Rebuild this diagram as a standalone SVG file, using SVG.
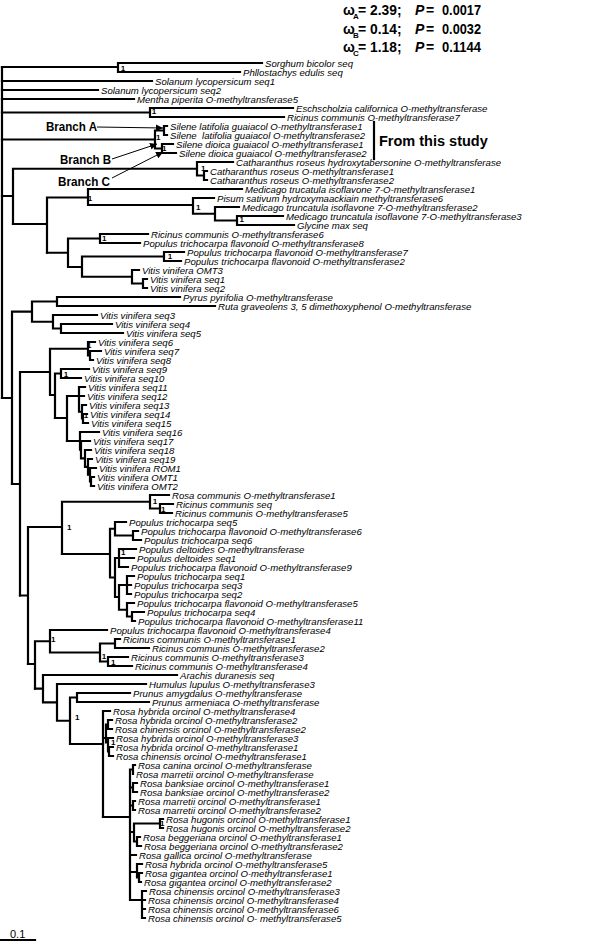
<svg xmlns="http://www.w3.org/2000/svg" width="600" height="942" viewBox="0 0 600 942">
<defs>
<style>
.t{font-family:"Liberation Sans",Arial,sans-serif;font-style:italic;font-size:9.6px;fill:#000}
.s{font-family:"Liberation Sans",Arial,sans-serif;font-weight:bold;font-size:8px;text-anchor:middle;fill:#000}
.h{font-family:"Liberation Sans",Arial,sans-serif;font-weight:bold;font-size:14px;fill:#000}
.hs{font-size:8px}
.br{stroke:#000;stroke-width:2.2;fill:none;stroke-linecap:square}
.ar{stroke:#000;stroke-width:1;fill:none}
.lb{font-family:"Liberation Sans",Arial,sans-serif;font-weight:bold;font-size:13px;fill:#000}
</style>
<marker id="ah" viewBox="0 0 10 10" refX="10" refY="5" markerWidth="7" markerHeight="7" orient="auto" markerUnits="userSpaceOnUse"><path d="M0,0 L10,5 L0,10 z" fill="#000"/></marker>
</defs>
<rect width="600" height="942" fill="#fff"/>
<g id="header">
<text class="h" y="14.5"><tspan x="343">ω</tspan><tspan class="hs" x="353" y="18.5">A</tspan><tspan x="358" y="14.5">=</tspan><tspan x="370" textLength="31.5" lengthAdjust="spacingAndGlyphs">2.39;</tspan><tspan x="415" font-style="italic">P</tspan><tspan x="426">=</tspan><tspan x="442" textLength="39" lengthAdjust="spacingAndGlyphs">0.0017</tspan></text>
<text class="h" y="33.5"><tspan x="343">ω</tspan><tspan class="hs" x="353" y="37.5">B</tspan><tspan x="358" y="33.5">=</tspan><tspan x="370" textLength="31.5" lengthAdjust="spacingAndGlyphs">0.14;</tspan><tspan x="415" font-style="italic">P</tspan><tspan x="426">=</tspan><tspan x="442" textLength="39" lengthAdjust="spacingAndGlyphs">0.0032</tspan></text>
<text class="h" y="52"><tspan x="343">ω</tspan><tspan class="hs" x="353" y="56">C</tspan><tspan x="358" y="52">=</tspan><tspan x="370" textLength="31.5" lengthAdjust="spacingAndGlyphs">1.18;</tspan><tspan x="415" font-style="italic">P</tspan><tspan x="426">=</tspan><tspan x="442" textLength="39" lengthAdjust="spacingAndGlyphs">0.1144</tspan></text>
</g>
<g id="connectors">
<path class="br" d="M2,67 V398"/>
<path class="br" d="M2,67 H118 M118,63 V72 M118,63 H262 M118,72 H240"/>
<path class="br" d="M2,81 H152 M2,90 H98 M2,99 H134"/>
<path class="br" d="M2,112.5 H150 M150,108 V117 M150,108 H293 M150,117 H284"/>
<path class="br" d="M2,139.5 H155 M155,130.5 V148.5 M155,130.5 H164 M164,126 V135 M164,126 H167 M164,135 H167 M155,148.5 H162 M162,144 V153 M162,144 H173 M162,153 H176"/>
<path class="br" d="M2,196 H13 M13,168.75 V224 M13,168.75 H197 M197,162 V175.5 M197,162 H233 M197,175.5 H204 M204,171 V180 M204,171 H207 M204,180 H207"/>
<path class="br" d="M13,224 H47 M47,197.5 V252.75 M47,197.5 H88 M88,189 V205 M88,189 H242 M88,205 H193 M193,198 V213.75 M193,198 H214 M193,213.75 H215 M215,207 V220.5 M215,207 H239 M215,220.5 H237 M237,216 V225 M237,216 H283 M237,225 H294"/>
<path class="br" d="M47,252.75 H68 M68,238.5 V267 M68,238.5 H100 M100,234 V243 M100,234 H148 M100,243 H140 M68,267 H82 M82,256.5 V276.75 M82,256.5 H164 M164,252 V261 M164,252 H184 M164,261 H181 M82,276.75 H132 M132,270 V283.5 M132,270 H139 M132,283.5 H143 M143,279 V288 M143,279 H147 M143,288 H147"/>
<path class="br" d="M2,398 H12 M12,311.6 V484 M12,311.6 H32 M32,301.5 V321.75 M32,301.5 H57 M57,297 V306 M57,297 H180 M57,306 H215 M32,321.75 H53 M53,315 V328.5 M53,315 H97 M53,328.5 H61 M61,324 V333 M61,324 H112 M61,333 H123"/>
<path class="br" d="M12,484 H20 M20,372 V595.5 M20,372 H50 M50,348.75 V395 M50,348.75 H88 M88,342 V355.5 M88,342 H95 M88,355.5 H90 M90,351 V360 M90,351 H101 M90,360 H93 M50,395 H55 M55,373.5 V418 M55,373.5 H61 M61,369 V378 M61,369 H89 M61,378 H81"/>
<path class="br" d="M55,418 H67 M67,396 V441 M67,396 H79 M79,387 V411.75 M79,387 H85 M79,396 H84 M79,411.75 H82 M82,405 V418.5 M82,405 H86 M82,418.5 H83 M83,414 V423 M83,414 H87 M83,423 H88"/>
<path class="br" d="M67,441 H80 M80,432 V449.7 M80,432 H99 M80,449.7 H81 M81,441 V458.4 M81,441 H90 M81,458.4 H85 M85,450 V466.9 M85,450 H91 M85,466.9 H88 M88,459 V474.75 M88,459 H92 M88,474.75 H90 M90,468 V481.5 M90,468 H96 M90,481.5 H91 M91,477 V486 M91,477 H94 M91,486 H94"/>
<path class="br" d="M20,595.5 H28 M28,527 V664 M28,527 H62 M62,501.75 V554 M62,501.75 H150 M150,495 V508.5 M150,495 H169 M150,508.5 H160 M160,504 V513 M160,504 H173 M160,513 H172"/>
<path class="br" d="M62,554 H110 M110,528.75 V577.5 M110,528.75 H115 M115,522 V535.5 M115,522 H126 M115,535.5 H133 M133,531 V540 M133,531 H138 M133,540 H141 M110,577.5 H115 M115,558 V597 M115,558 H119 M119,549 V567 M119,549 H136 M119,558 H134 M119,567 H128 M115,597 H119 M119,585 V609.75 M119,585 H127 M127,576 V594 M127,576 H134 M127,585 H131 M127,594 H131 M119,609.75 H127 M127,603 V616.5 M127,603 H134 M127,616.5 H132 M132,612 V621 M132,612 H144 M132,621 H135"/>
<path class="br" d="M28,664 H35 M35,641.25 V688.7 M35,641.25 H50 M50,630 V652.5 M50,630 H107 M50,652.5 H100 M100,643.5 V661.5 M100,643.5 H115 M115,639 V648 M115,639 H120 M115,648 H149 M100,661.5 H108 M108,657 V666 M108,657 H128 M108,666 H132"/>
<path class="br" d="M35,688.7 H43 M43,675 V702.4 M43,675 H177 M43,702.4 H57 M57,684 V720.75 M57,684 H146 M57,720.75 H70 M70,697.5 V744 M70,697.5 H77 M77,693 V702 M77,693 H130 M77,702 H149 M70,744 H103"/>
<path class="br" d="M103,711 V817 M103,711 H110 M103,738 H106 M106,724.5 V742.5 M106,724.5 H108 M108,720 V729 M108,720 H112 M108,729 H112 M106,742.5 H108 M108,738 V751.5 M108,738 H113 M108,751.5 H109 M109,747 V756 M109,747 H113 M109,756 H113"/>
<path class="br" d="M103,817 H130 M130,769.5 V900 M130,769.5 H133 M133,765 V774 M133,765 H135 M133,774 H133 M130,787.5 H133 M133,783 V792 M133,783 H137 M133,792 H137 M130,805.5 H133 M133,801 V810 M133,801 H135 M133,810 H135 M130,832 H134 M134,823.5 V841.5 M134,823.5 H160 M160,819 V828 M160,819 H163 M160,828 H163 M134,841.5 H137 M137,837 V846 M137,837 H140 M137,846 H141 M130,855 H136 M130,872 H137 M137,864 V877.5 M137,864 H142 M137,877.5 H139 M139,873 V882 M139,873 H142 M139,882 H141 M130,900 H142 M142,891 V918 M142,891 H146 M142,900 H145 M142,909 H145 M142,918 H145"/>
<path class="ar" d="M97,127 L163,128" marker-end="url(#ah)"/>
<path class="ar" d="M112,159 L157,144" marker-end="url(#ah)"/>
<path class="ar" d="M112,178 L163,152" marker-end="url(#ah)"/>
<path class="br" d="M374,122 V159"/>
<path class="br" d="M1,940 H35"/>
</g>
<g id="support">
<text class="s" x="123" y="70.9">1</text>
<text class="s" x="154" y="114.2">1</text>
<text class="s" x="158.3" y="140.2">1</text>
<text class="s" x="164.3" y="150.9">1</text>
<text class="s" x="203.3" y="170.6">1</text>
<text class="s" x="90" y="200.6">1</text>
<text class="s" x="198.3" y="209.6">1</text>
<text class="s" x="241.7" y="222.2">1</text>
<text class="s" x="104.3" y="240.9">1</text>
<text class="s" x="170" y="258.6">1</text>
<text class="s" x="89.3" y="348.2">1</text>
<text class="s" x="66" y="376.6">1</text>
<text class="s" x="86" y="417.9">1</text>
<text class="s" x="155" y="504.2">1</text>
<text class="s" x="163.3" y="511.6">1</text>
<text class="s" x="69.3" y="530.2">1</text>
<text class="s" x="123.3" y="554.6">1</text>
<text class="s" x="53.3" y="641.9">1</text>
<text class="s" x="104" y="658.6">1</text>
<text class="s" x="113.3" y="665.2">1</text>
<text class="s" x="77.3" y="719.9">1</text>
<text class="s" x="113.3" y="744.9">1</text>
<text class="s" x="162.3" y="826.2">1</text>
</g>
<g id="annotations">
<text class="lb" x="46" y="131" textLength="51" lengthAdjust="spacingAndGlyphs">Branch A</text>
<text class="lb" x="60" y="163.5" textLength="51" lengthAdjust="spacingAndGlyphs">Branch B</text>
<text class="lb" x="58" y="185.5" textLength="52" lengthAdjust="spacingAndGlyphs">Branch C</text>
<text x="379" y="146.3" font-family="Liberation Sans, Arial, sans-serif" font-weight="bold" font-size="14.5px">From this study</text>
<text x="10" y="937.5" font-family="Liberation Sans, Arial, sans-serif" font-size="11px">0.1</text>
</g>
<g id="leaves">
<g id="leaf1"><text class="t" x="265" y="66.5">Sorghum bicolor seq</text></g>
<g id="leaf2"><text class="t" x="243" y="75.5">Phllostachys edulis seq</text></g>
<g id="leaf3"><text class="t" x="155" y="84.5">Solanum lycopersicum seq1</text></g>
<g id="leaf4"><text class="t" x="101" y="93.5">Solanum lycopersicum seq2</text></g>
<g id="leaf5"><text class="t" x="137" y="102.5">Mentha piperita O-methyltransferase5</text></g>
<g id="leaf6"><text class="t" x="296" y="111.5">Eschscholzia californica O-methyltransferase</text></g>
<g id="leaf7"><text class="t" x="287" y="120.5">Ricinus communis O-methyltransferase7</text></g>
<g id="leaf8"><text class="t" x="170" y="129.5">Silene latifolia guaiacol O-methyltransferase1</text></g>
<g id="leaf9"><text class="t" x="170" y="138.5" xml:space="preserve">Silene  latifolia guaiacol O-methyltransferase2</text></g>
<g id="leaf10"><text class="t" x="176" y="147.5">Silene dioica guaiacol O-methyltransferase1</text></g>
<g id="leaf11"><text class="t" x="179" y="156.5">Silene dioica guaiacol O-methyltransferase2</text></g>
<g id="leaf12"><text class="t" x="236" y="165.5">Catharanthus roseus hydroxytabersonine O-methyltransferase</text></g>
<g id="leaf13"><text class="t" x="210" y="174.5">Catharanthus roseus O-methyltransferase1</text></g>
<g id="leaf14"><text class="t" x="210" y="183.5">Catharanthus roseus O-methyltransferase2</text></g>
<g id="leaf15"><text class="t" x="245" y="192.5">Medicago trucatula isoflavone 7-O-methyltransferase1</text></g>
<g id="leaf16"><text class="t" x="217" y="201.5">Pisum sativum hydroxymaackiain methyltransferase6</text></g>
<g id="leaf17"><text class="t" x="242" y="210.5">Medicago truncatula isoflavone 7-O-methyltransferase2</text></g>
<g id="leaf18"><text class="t" x="286" y="219.5">Medicago truncatula isoflavone 7-O-methyltransferase3</text></g>
<g id="leaf19"><text class="t" x="297" y="228.5">Glycine max seq</text></g>
<g id="leaf20"><text class="t" x="151" y="237.5">Ricinus communis O-methyltransferase6</text></g>
<g id="leaf21"><text class="t" x="143" y="246.5">Populus trichocarpa flavonoid O-methyltransferase8</text></g>
<g id="leaf22"><text class="t" x="187" y="255.5">Populus trichocarpa flavonoid O-methyltransferase7</text></g>
<g id="leaf23"><text class="t" x="184" y="264.5">Populus trichocarpa flavonoid O-methyltransferase2</text></g>
<g id="leaf24"><text class="t" x="142" y="273.5">Vitis vinifera OMT3</text></g>
<g id="leaf25"><text class="t" x="150" y="282.5">Vitis vinifera seq1</text></g>
<g id="leaf26"><text class="t" x="150" y="291.5">Vitis vinifera seq2</text></g>
<g id="leaf27"><text class="t" x="183" y="300.5">Pyrus pyrifolia O-methyltransferase</text></g>
<g id="leaf28"><text class="t" x="218" y="309.5">Ruta graveolens 3, 5 dimethoxyphenol O-methyltransferase</text></g>
<g id="leaf29"><text class="t" x="100" y="318.5">Vitis vinifera seq3</text></g>
<g id="leaf30"><text class="t" x="115" y="327.5">Vitis vinifera seq4</text></g>
<g id="leaf31"><text class="t" x="126" y="336.5">Vitis vinifera seq5</text></g>
<g id="leaf32"><text class="t" x="98" y="345.5">Vitis vinifera seq6</text></g>
<g id="leaf33"><text class="t" x="104" y="354.5">Vitis vinifera seq7</text></g>
<g id="leaf34"><text class="t" x="96" y="363.5">Vitis vinifera seq8</text></g>
<g id="leaf35"><text class="t" x="92" y="372.5">Vitis vinifera seq9</text></g>
<g id="leaf36"><text class="t" x="84" y="381.5">Vitis vinifera seq10</text></g>
<g id="leaf37"><text class="t" x="88" y="390.5">Vitis vinifera seq11</text></g>
<g id="leaf38"><text class="t" x="87" y="399.5">Vitis vinifera seq12</text></g>
<g id="leaf39"><text class="t" x="89" y="408.5">Vitis vinifera seq13</text></g>
<g id="leaf40"><text class="t" x="90" y="417.5">Vitis vinifera seq14</text></g>
<g id="leaf41"><text class="t" x="91" y="426.5">Vitis vinifera seq15</text></g>
<g id="leaf42"><text class="t" x="102" y="435.5">Vitis vinifera seq16</text></g>
<g id="leaf43"><text class="t" x="93" y="444.5">Vitis vinifera seq17</text></g>
<g id="leaf44"><text class="t" x="94" y="453.5">Vitis vinifera seq18</text></g>
<g id="leaf45"><text class="t" x="95" y="462.5">Vitis vinifera seq19</text></g>
<g id="leaf46"><text class="t" x="99" y="471.5">Vitis vinifera ROM1</text></g>
<g id="leaf47"><text class="t" x="97" y="480.5">Vitis vinifera OMT1</text></g>
<g id="leaf48"><text class="t" x="97" y="489.5">Vitis vinifera OMT2</text></g>
<g id="leaf49"><text class="t" x="172" y="498.5">Rosa communis O-methyltransferase1</text></g>
<g id="leaf50"><text class="t" x="176" y="507.5">Ricinus communis seq</text></g>
<g id="leaf51"><text class="t" x="175" y="516.5">Ricinus communis O-methyltransferase5</text></g>
<g id="leaf52"><text class="t" x="129" y="525.5">Populus trichocarpa seq5</text></g>
<g id="leaf53"><text class="t" x="141" y="534.5">Populus trichocarpa flavonoid O-methyltransferase6</text></g>
<g id="leaf54"><text class="t" x="144" y="543.5">Populus trichocarpa seq6</text></g>
<g id="leaf55"><text class="t" x="139" y="552.5">Populus deltoides O-methyltransferase</text></g>
<g id="leaf56"><text class="t" x="137" y="561.5">Populus deltoides seq1</text></g>
<g id="leaf57"><text class="t" x="131" y="570.5">Populus trichocarpa flavonoid O-methyltransferase9</text></g>
<g id="leaf58"><text class="t" x="137" y="579.5">Populus trichocarpa seq1</text></g>
<g id="leaf59"><text class="t" x="134" y="588.5">Populus trichocarpa seq3</text></g>
<g id="leaf60"><text class="t" x="134" y="597.5">Populus trichocarpa seq2</text></g>
<g id="leaf61"><text class="t" x="137" y="606.5">Populus trichocarpa flavonoid O-methyltransferase5</text></g>
<g id="leaf62"><text class="t" x="147" y="615.5">Populus trichocarpa seq4</text></g>
<g id="leaf63"><text class="t" x="138" y="624.5">Populus trichocarpa flavonoid O-methyltransferase11</text></g>
<g id="leaf64"><text class="t" x="110" y="633.5">Populus trichocarpa flavonoid O-methyltransferase4</text></g>
<g id="leaf65"><text class="t" x="123" y="642.5">Ricinus communis O-methyltransferase1</text></g>
<g id="leaf66"><text class="t" x="152" y="651.5">Ricinus communis O-methyltransferase2</text></g>
<g id="leaf67"><text class="t" x="131" y="660.5">Ricinus communis O-methyltransferase3</text></g>
<g id="leaf68"><text class="t" x="135" y="669.5">Ricinus communis O-methyltransferase4</text></g>
<g id="leaf69"><text class="t" x="180" y="678.5">Arachis duranesis seq</text></g>
<g id="leaf70"><text class="t" x="149" y="687.5">Humulus lupulus O-methyltransferase3</text></g>
<g id="leaf71"><text class="t" x="133" y="696.5">Prunus amygdalus O-methyltransferase</text></g>
<g id="leaf72"><text class="t" x="152" y="705.5">Prunus armeniaca O-methyltransferase</text></g>
<g id="leaf73"><text class="t" x="113" y="714.5">Rosa hybrida orcinol O-methyltransferase4</text></g>
<g id="leaf74"><text class="t" x="115" y="723.5">Rosa hybrida orcinol O-methyltransferase2</text></g>
<g id="leaf75"><text class="t" x="115" y="732.5">Rosa chinensis orcinol O-methyltransferase2</text></g>
<g id="leaf76"><text class="t" x="116" y="741.5">Rosa hybrida orcinol O-methyltransferase3</text></g>
<g id="leaf77"><text class="t" x="116" y="750.5">Rosa hybrida orcinol O-methyltransferase1</text></g>
<g id="leaf78"><text class="t" x="116" y="759.5">Rosa chinensis orcinol O-methyltransferase1</text></g>
<g id="leaf79"><text class="t" x="138" y="768.5">Rosa canina orcinol O-methyltransferase</text></g>
<g id="leaf80"><text class="t" x="136" y="777.5">Rosa marretii orcinol O-methyltransferase</text></g>
<g id="leaf81"><text class="t" x="140" y="786.5">Rosa banksiae orcinol O-methyltransferase1</text></g>
<g id="leaf82"><text class="t" x="140" y="795.5">Rosa banksiae orcinol O-methyltransferase2</text></g>
<g id="leaf83"><text class="t" x="138" y="804.5">Rosa marretii orcinol O-methyltransferase1</text></g>
<g id="leaf84"><text class="t" x="138" y="813.5">Rosa marretii orcinol O-methyltransferase2</text></g>
<g id="leaf85"><text class="t" x="166" y="822.5">Rosa hugonis orcinol O-methyltransferase1</text></g>
<g id="leaf86"><text class="t" x="166" y="831.5">Rosa hugonis orcinol O-methyltransferase2</text></g>
<g id="leaf87"><text class="t" x="143" y="840.5">Rosa beggeriana orcinol O-methyltransferase1</text></g>
<g id="leaf88"><text class="t" x="144" y="849.5">Rosa beggeriana orcinol O-methyltransferase2</text></g>
<g id="leaf89"><text class="t" x="139" y="858.5">Rosa gallica orcinol O-methyltransferase</text></g>
<g id="leaf90"><text class="t" x="145" y="867.5">Rosa hybrida orcinol O-methyltransferase5</text></g>
<g id="leaf91"><text class="t" x="145" y="876.5">Rosa gigantea orcinol O-methyltransferase1</text></g>
<g id="leaf92"><text class="t" x="144" y="885.5">Rosa gigantea orcinol O-methyltransferase2</text></g>
<g id="leaf93"><text class="t" x="149" y="894.5">Rosa chinensis orcinol O-methyltransferase3</text></g>
<g id="leaf94"><text class="t" x="148" y="903.5">Rosa chinensis orcinol O-methyltransferase4</text></g>
<g id="leaf95"><text class="t" x="148" y="912.5">Rosa chinensis orcinol O-methyltransferase6</text></g>
<g id="leaf96"><text class="t" x="148" y="921.5">Rosa chinensis orcinol O- methyltransferase5</text></g>
</g>
</svg>
